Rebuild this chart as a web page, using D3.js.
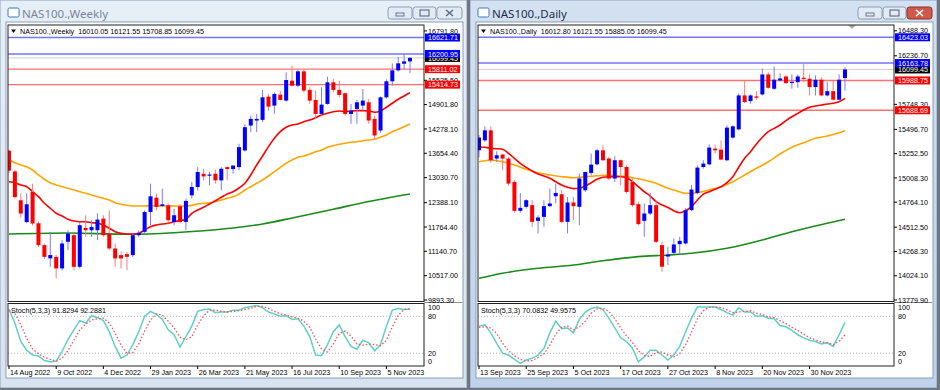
<!DOCTYPE html>
<html>
<head>
<meta charset="utf-8">
<script src="https://cdnjs.cloudflare.com/ajax/libs/d3/7.8.5/d3.min.js"></script>
<style>
    body { margin: 0; background: #ffffff; }
    svg { display: block; font-family: "Liberation Sans", Arial, sans-serif; }
</style>
</head>
<body>
<div id="chart"></div>
<script>
// ---- Weekly window data ----
const weeklyDates = ['14 Aug 2022', '9 Oct 2022', '4 Dec 2022', '29 Jan 2023', '26 Mar 2023',
    '21 May 2023', '16 Jul 2023', '10 Sep 2023', '5 Nov 2023'];
const weeklyPriceTicks = [9893.30, 10517.00, 11140.70, 11764.40, 12388.10, 13030.70, 13654.40,
    14278.10, 14901.80, 15525.50, 16791.80];
// [open, high, low, close]
const weeklyCandles = [
    [13720, 13750, 13150, 13210], [13190, 13230, 12500, 12530], [12450, 12630, 12010, 12110],
    [11890, 12630, 11860, 12347], [12661, 12876, 11800, 11853], [11860, 11900, 11250, 11300],
    [11300, 11340, 10950, 11000], [10960, 11640, 10745, 11045], [10999, 11050, 10448, 10703],
    [10703, 11427, 10650, 11342], [11385, 11682, 11171, 11598], [11555, 11600, 10660, 10744],
    [10744, 11900, 10700, 11810], [11740, 12065, 11510, 11682], [11682, 11938, 11510, 11767],
    [11682, 12117, 11427, 11955], [11980, 12065, 11510, 11555], [11597, 12193, 11171, 11214],
    [11214, 11342, 10745, 10959], [11044, 11128, 10703, 10959], [11069, 11128, 10660, 11000],
    [11044, 11597, 10990, 11555], [11555, 11682, 11510, 11613], [11640, 12193, 11600, 12150],
    [12150, 12876, 11810, 12551], [12518, 12620, 12193, 12279], [12305, 12748, 12279, 12347],
    [12321, 12365, 11853, 11938], [11894, 12237, 11810, 12066], [12296, 12347, 11853, 11894],
    [11894, 12493, 11682, 12433], [12577, 12917, 12493, 12790], [12790, 13300, 12700, 13173],
    [13130, 13258, 12960, 13062], [13088, 13173, 12832, 13110], [13130, 13233, 12875, 12960],
    [12960, 13300, 12705, 13258], [13300, 13320, 12960, 13250], [13250, 13343, 13130, 13340],
    [13300, 13898, 13216, 13812], [13727, 14400, 13700, 14323], [14366, 14621, 14196, 14536],
    [14494, 14664, 14196, 14536], [14511, 15278, 14450, 15089], [15107, 15176, 14749, 14851],
    [14877, 15218, 14664, 15176], [15158, 15261, 15005, 15022], [15005, 15729, 14980, 15533],
    [15516, 15900, 15370, 15388], [15388, 15789, 15346, 15755], [15755, 15789, 15210, 15261],
    [15278, 15346, 14920, 15005], [15022, 15261, 14536, 14664], [14664, 15346, 14621, 14902],
    [14920, 15618, 14900, 15474], [15474, 15559, 15218, 15278], [15278, 15516, 15090, 15150],
    [15193, 15218, 14621, 14664], [14664, 14920, 14408, 14749], [14792, 15022, 14408, 14962],
    [14877, 15303, 14749, 15005], [14962, 15050, 14408, 14494], [14536, 14621, 14000, 14110],
    [14238, 15107, 14180, 15089], [15089, 15550, 15050, 15500], [15500, 15960, 15390, 15780],
    [15780, 16130, 15750, 15960], [15950, 16200.95, 15800, 16010], [16010.05, 16121.55, 15708.85, 16099.45]
];
const weeklyMaRed = [12926, 12901, 12842, 12798, 12670, 12542, 12373, 12245, 12117, 12047,
    11963, 11919, 11901, 11901, 11875, 11860, 11816, 11732, 11645, 11603,
    11586, 11586, 11603, 11688, 11773, 11816, 11842, 11860, 11901, 11927,
    11963, 12117, 12201, 12270, 12355, 12439, 12526, 12611, 12670, 12765,
    12885, 13098, 13355, 13585, 13824, 14039, 14208, 14321, 14380, 14406,
    14465, 14508, 14568, 14637, 14680, 14721, 14739, 14721, 14739, 14747,
    14747, 14739, 14706, 14739, 14834, 14937, 15039, 15124, 15209];
const weeklyMaOrange = [13483, 13413, 13354, 13311, 13226, 13098, 12988, 12901, 12842, 12798,
    12757, 12713, 12670, 12629, 12585, 12542, 12501, 12457, 12388, 12347,
    12321, 12303, 12303, 12303, 12311, 12311, 12303, 12303, 12303, 12303,
    12303, 12321, 12355, 12373, 12388, 12413, 12457, 12501, 12542, 12611,
    12713, 12798, 12885, 12970, 13072, 13183, 13295, 13398, 13483, 13552,
    13585, 13636, 13695, 13739, 13808, 13849, 13885, 13911, 13936, 13952,
    13977, 13995, 14013, 14065, 14124, 14208, 14270, 14336, 14406];
// [bar index, value]
const weeklyMaGreen = [[0, 11585], [10, 11611], [20, 11578], [28, 11619], [33, 11670], [38, 11739],
    [43, 11842], [49, 12029], [55, 12219], [60, 12388], [68, 12611]];
const weeklyBlueLevels = [16621.71, 16200.95];
const weeklyRedLevels = [15811.02, 15414.73];
const weeklyStochMain = [91, 69, 39, 25, 17, 15.6, 8, 6, 7, 23, 42, 58, 73, 69, 81, 78, 73, 55, 31, 12,
    17, 34, 55, 80, 88, 83, 75, 58, 50, 30, 47, 64, 88, 91, 92, 86, 87, 87, 90, 90,
    94, 96, 97.5, 94, 87, 84, 80, 81, 75, 76, 64, 47, 17, 16, 34, 55, 66, 47, 31, 26.5,
    41, 37, 24, 34, 64, 90, 92.6, 91, 91.83];
const weeklyStochSignal = [90, 85, 66, 44, 27, 19, 13.5, 10, 7, 12, 24, 41, 58, 67, 74, 76, 77, 69, 53, 33,
    20, 21, 35, 56, 74, 84, 82, 72, 61, 46, 42, 47, 66, 81, 90, 90, 88, 87, 88, 89,
    91, 93, 96, 96, 93, 88, 84, 82, 79, 77, 72, 62, 43, 27, 22, 35, 52, 56, 48, 35,
    33, 35, 34, 32, 41, 63, 82, 91, 92.29];

// ---- Daily window data ----
const dailyDates = ['13 Sep 2023', '25 Sep 2023', '5 Oct 2023', '17 Oct 2023', '27 Oct 2023',
    '8 Nov 2023', '20 Nov 2023', '30 Nov 2023'];
const dailyPriceTicks = [13779.90, 14024.10, 14268.30, 14512.50, 14764.10, 15008.30, 15252.50,
    15496.70, 15748.30, 16236.70, 16488.30];
const dailyCandles = [
    [15286, 15440, 15215, 15414], [15386, 15527, 15370, 15487], [15487, 15527, 15160, 15186],
    [15203, 15275, 15170, 15236], [15243, 15253, 15085, 15203], [15203, 15220, 14930, 14951],
    [14968, 14990, 14660, 14677], [14677, 14857, 14660, 14707], [14717, 14794, 14700, 14784],
    [14734, 14784, 14516, 14566], [14576, 14633, 14450, 14610], [14616, 14784, 14516, 14724],
    [14724, 14901, 14714, 14751], [14824, 14951, 14751, 14857], [14844, 14884, 14553, 14566],
    [14566, 14817, 14450, 14761], [14761, 14817, 14583, 14724], [14717, 15052, 14533, 15002],
    [14884, 15070, 14867, 15068], [15058, 15253, 15035, 15142], [15145, 15303, 15135, 15286],
    [15286, 15336, 15176, 15186], [15203, 15220, 14985, 15002], [15002, 15226, 14968, 15186],
    [15186, 15193, 14934, 15118], [15118, 15135, 14850, 14867], [14968, 15005, 14714, 14734],
    [14744, 14767, 14533, 14543], [14576, 14751, 14416, 14650], [14650, 14857, 14633, 14734],
    [14734, 14784, 14350, 14365], [14332, 14365, 14064, 14115], [14217, 14315, 14131, 14237],
    [14255, 14399, 14242, 14339], [14342, 14415, 14242, 14375], [14349, 14704, 14339, 14684],
    [14684, 14935, 14674, 14891], [14857, 15135, 14844, 15112], [15118, 15186, 15102, 15152],
    [15145, 15346, 15135, 15313], [15303, 15343, 15253, 15286], [15293, 15386, 15186, 15193],
    [15186, 15537, 15176, 15514], [15414, 15537, 15404, 15527], [15497, 15858, 15487, 15838],
    [15838, 15989, 15761, 15771], [15781, 15848, 15754, 15838], [15828, 15881, 15795, 15815],
    [15848, 16109, 15838, 16049], [16049, 16072, 15905, 15915], [15905, 16129, 15895, 15996],
    [15989, 16059, 15979, 16009], [16029, 16039, 15955, 15962], [15965, 16049, 15905, 15975],
    [15972, 16049, 15915, 16029], [16016, 16163.78, 15972, 16006], [16006, 16049, 15838, 15922],
    [15922, 16039, 15838, 15996], [15996, 16019, 15828, 15838], [15838, 15972, 15828, 15881],
    [15881, 15989, 15785, 15795], [15795, 16049, 15788, 15996], [16012.80, 16121.55, 15885.05, 16099.45]
];
const dailyMaRed = [15316, 15316, 15306, 15302, 15296, 15256, 15205, 15155, 15115, 15078,
    15048, 15027, 15004, 14970, 14937, 14914, 14900, 14904, 14927, 14960,
    14994, 15014, 15020, 15020, 15020, 15010, 14970, 14920, 14869, 14826,
    14769, 14736, 14711, 14678, 14658, 14678, 14719, 14786, 14846, 14869,
    14894, 14920, 14960, 15020, 15115, 15205, 15272, 15349, 15417, 15473,
    15507, 15541, 15584, 15624, 15658, 15691, 15719, 15732, 15742, 15752,
    15759, 15775, 15809];
const dailyMaOrange = [[0, 15171], [2, 15188], [4, 15171], [6, 15138], [8, 15095], [10, 15061],
    [12, 15038], [14, 15020], [16, 15010], [18, 15020], [20, 15030], [22, 15038], [24, 15027],
    [26, 15010], [28, 14987], [30, 14954], [32, 14904], [33, 14887], [35, 14853], [37, 14859],
    [39, 14887], [41, 14920], [43, 14970], [45, 15038], [47, 15105], [49, 15171], [51, 15249],
    [53, 15316], [55, 15362], [57, 15407], [59, 15430], [61, 15463], [62, 15483]];
const dailyMaGreen = [[0, 13998], [4, 14049], [10, 14099], [16, 14132], [21, 14175], [27, 14216],
    [32, 14233], [36, 14250], [42, 14300], [48, 14384], [53, 14467], [59, 14552], [62, 14592]];
const dailyBlueLevels = [16423.03, 16163.78];
const dailyRedLevels = [15988.75, 15688.69];
const dailyStochMain = [64, 66, 53, 36, 20, 17, 10, 3.6, 9, 12, 17, 28, 53, 72, 60, 61, 53, 75, 87, 92.6,
    95, 91, 77, 61, 45, 39, 28, 6, 14, 25, 25, 17, 9, 17, 31, 55, 77, 95, 95, 95,
    95, 91, 86, 82, 94, 87, 87, 80, 81, 77, 76, 65, 63, 57, 50, 45, 41, 39, 35, 37,
    31, 50, 70.08];
const dailyStochSignal = [62, 63, 61, 52, 36, 24, 16, 10, 7.5, 8, 13, 19, 33, 51, 62, 64, 58, 63, 72, 85,
    92, 93, 88, 76, 61, 48, 37, 24, 16, 15, 21, 22, 17, 14, 19, 34, 54, 76, 89, 95,
    95, 94, 91, 86, 87, 88, 89, 85, 83, 79, 78, 73, 68, 62, 57, 51, 45, 42, 38, 37,
    34, 39, 49.96];

const width = 940;
const height = 390;

const svg = d3.select('#chart')
    .append('svg')
    .attr('width', width)
    .attr('height', height);

const defs = svg.append('defs');

/**
 * Draws one MT4 style chart window
 * @param {Object} cfg window settings and data
 */
function drawWindow(cfg) {
    const ox = cfg.left;
    const plot = {left: ox + 8, right: ox + 424, top: 25, bottom: 301.5};
    const stoch = {top: 303.5, bottom: 366};
    const g = svg.append('g').classed('window', true);

    // frame and title bar
    const grad = defs.append('linearGradient')
        .attr('id', 'title-' + cfg.id)
        .attr('x1', 0).attr('y1', 0).attr('x2', 0).attr('y2', 1);
    grad.append('stop').attr('offset', '0%').attr('stop-color', cfg.active ? '#d3e1f1' : '#e6eef7');
    grad.append('stop').attr('offset', '100%').attr('stop-color', cfg.active ? '#bfd2ea' : '#d8e3f0');

    g.append('rect')
        .attr('x', ox).attr('y', 0)
        .attr('width', 467).attr('height', 388)
        .attr('fill', 'url(#title-' + cfg.id + ')')
        .attr('stroke', '#8da3bd')
        .attr('stroke-width', 1);

    // icon
    g.append('rect')
        .attr('x', ox + 8).attr('y', 8).attr('width', 11).attr('height', 9)
        .attr('rx', 1.5)
        .attr('fill', '#ffffff').attr('stroke', '#3d78c4');
    g.append('text')
        .attr('x', ox + 22).attr('y', 18)
        .attr('font-size', 11.5)
        .attr('font-family', '"Noto Sans", "Liberation Sans", sans-serif')
        .attr('fill', cfg.active ? '#1e2f4c' : '#7b8797')
        .text(cfg.title);

    // caption buttons
    const btnX = [ox + 388, ox + 413, ox + 437];
    const btnW = [24, 23, 25];
    btnX.forEach((bx, k) => {
        const isClose = k === 2;
        g.append('rect')
            .attr('x', bx).attr('y', 7).attr('width', btnW[k]).attr('height', 12)
            .attr('rx', 2.5)
            .attr('fill', isClose && cfg.active ? '#cf5a4b' : '#e2eaf4')
            .attr('stroke', isClose && cfg.active ? '#8a3329' : '#8c9db3');
    });
    const gc = cfg.active ? '#ffffff' : '#5d6d82';
    g.append('rect').attr('x', btnX[0] + 8).attr('y', 13).attr('width', 8).attr('height', 3)
        .attr('fill', 'none').attr('stroke', '#4c5d74').attr('stroke-width', 0.8);
    g.append('rect').attr('x', btnX[1] + 7).attr('y', 10).attr('width', 9).attr('height', 6)
        .attr('fill', 'none').attr('stroke', '#4c5d74').attr('stroke-width', 1);
    g.append('path')
        .attr('d', `M${btnX[2] + 9},10 L${btnX[2] + 16},16 M${btnX[2] + 16},10 L${btnX[2] + 9},16`)
        .attr('stroke', gc).attr('stroke-width', 1.6);

    // client area
    g.append('rect')
        .attr('x', ox + 6).attr('y', 22)
        .attr('width', 457).attr('height', 356)
        .attr('fill', '#ffffff')
        .attr('stroke', '#8c9db3');

    // scales
    const n = cfg.candles.length;
    const xScale = d3.scaleLinear()
        .domain([0, n - 1])
        .range([cfg.firstX, cfg.lastX]);
    const yScale = d3.scaleLinear()
        .domain(cfg.yDomain)
        .range([300, cfg.yTop]);
    const sScale = d3.scaleLinear()
        .domain([0, 100])
        .range([365.5, 304]);

    // clip paths
    defs.append('clipPath').attr('id', 'clip-main-' + cfg.id)
        .append('rect')
        .attr('x', plot.left).attr('y', plot.top)
        .attr('width', plot.right - plot.left).attr('height', plot.bottom - plot.top);
    defs.append('clipPath').attr('id', 'clip-stoch-' + cfg.id)
        .append('rect')
        .attr('x', plot.left).attr('y', stoch.top)
        .attr('width', plot.right - plot.left).attr('height', stoch.bottom - stoch.top);

    const main = g.append('g').attr('clip-path', `url(#clip-main-${cfg.id})`);

    // horizontal levels
    main.append('line')
        .attr('x1', plot.left).attr('x2', plot.right)
        .attr('y1', yScale(cfg.candles[n - 1][3])).attr('y2', yScale(cfg.candles[n - 1][3]))
        .attr('stroke', '#d0d0d0').attr('stroke-width', 1);
    cfg.blueLevels.forEach(v => {
        main.append('line')
            .attr('x1', plot.left).attr('x2', plot.right)
            .attr('y1', yScale(v)).attr('y2', yScale(v))
            .attr('stroke', '#7474ff').attr('stroke-width', 1.4);
    });
    cfg.redLevels.forEach(v => {
        main.append('line')
            .attr('x1', plot.left).attr('x2', plot.right)
            .attr('y1', yScale(v)).attr('y2', yScale(v))
            .attr('stroke', '#ff7070').attr('stroke-width', 1.4);
    });

    // moving averages
    const seriesLine = d3.line()
        .x(d => xScale(d[0]))
        .y(d => yScale(d[1]))
        .curve(d3.curveMonotoneX);
    const maLines = [
        {data: cfg.maGreen, color: '#1b8a1b'},
        {data: cfg.maOrange, color: '#ffa500'},
        {data: cfg.maRed, color: '#ff0000'}
    ];
    maLines.forEach(ma => {
        main.append('path')
            .datum(ma.data)
            .attr('d', seriesLine)
            .attr('fill', 'none')
            .attr('stroke', ma.color)
            .attr('stroke-width', 1.6);
    });

    // candles
    const candle = main.selectAll('.candle')
        .data(cfg.candles)
        .enter()
        .append('g')
        .classed('candle', true);
    candle.append('line')
        .attr('x1', (d, i) => xScale(i)).attr('x2', (d, i) => xScale(i))
        .attr('y1', d => yScale(d[1])).attr('y2', d => yScale(d[2]))
        .attr('stroke', d => d[3] >= d[0] ? '#7a7aff' : '#ff7a7a')
        .attr('stroke-width', 1);
    candle.append('rect')
        .attr('x', (d, i) => xScale(i) - 2)
        .attr('width', 4)
        .attr('y', d => yScale(Math.max(d[0], d[3])))
        .attr('height', d => Math.max(1.2, Math.abs(yScale(d[0]) - yScale(d[3]))))
        .attr('fill', d => d[3] >= d[0] ? '#0000ff' : '#ff0000');

    // chart shift marker
    if (cfg.shiftMarker) {
        g.append('path')
            .attr('d', `M${ox + 378},25 L${ox + 386},25 L${ox + 382},29 Z`)
            .attr('fill', '#a8a8a8');
    }

    // stochastic panel
    const st = g.append('g').attr('clip-path', `url(#clip-stoch-${cfg.id})`);
    [20, 80].forEach(v => {
        st.append('line')
            .attr('x1', plot.left).attr('x2', plot.right)
            .attr('y1', sScale(v)).attr('y2', sScale(v))
            .attr('stroke', '#b4b4b4').attr('stroke-dasharray', '1,2');
    });
    const stochLine = d3.line()
        .x((d, i) => xScale(i))
        .y(d => sScale(d));
    st.append('path')
        .datum(cfg.stochMain)
        .attr('d', stochLine)
        .attr('fill', 'none')
        .attr('stroke', '#5fd0c8')
        .attr('stroke-width', 1.5);
    st.append('path')
        .datum(cfg.stochSignal)
        .attr('d', stochLine)
        .attr('fill', 'none')
        .attr('stroke', '#ff4d4d')
        .attr('stroke-width', 1.3)
        .attr('stroke-dasharray', '1.5,2');

    // borders
    g.append('rect')
        .attr('x', plot.left).attr('y', plot.top)
        .attr('width', plot.right - plot.left).attr('height', plot.bottom - plot.top)
        .attr('fill', 'none').attr('stroke', '#202020').attr('stroke-width', 1);
    g.append('rect')
        .attr('x', plot.left).attr('y', stoch.top)
        .attr('width', plot.right - plot.left).attr('height', stoch.bottom - stoch.top)
        .attr('fill', 'none').attr('stroke', '#202020').attr('stroke-width', 1);
    g.append('line')
        .attr('x1', plot.right).attr('x2', ox + 462)
        .attr('y1', 302.5).attr('y2', 302.5)
        .attr('stroke', '#909090');

    // chart headers
    g.append('path')
        .attr('d', `M${plot.left + 3},29.5 L${plot.left + 8},29.5 L${plot.left + 5.5},33 Z`)
        .attr('fill', '#000000');
    g.append('text')
        .attr('x', plot.left + 12).attr('y', 34)
        .attr('font-size', 7.2).attr('fill', '#000000')
        .attr('xml:space', 'preserve')
        .text(cfg.header);
    g.append('text')
        .attr('x', plot.left + 3).attr('y', 313)
        .attr('font-size', 7.2).attr('fill', '#000000')
        .text(cfg.stochHeader);

    // price axis
    const axisG = g.append('g').attr('font-size', 7.2);
    cfg.priceTicks.forEach(v => {
        const y = yScale(v);
        axisG.append('line')
            .attr('x1', plot.right).attr('x2', plot.right + 3)
            .attr('y1', y).attr('y2', y)
            .attr('stroke', '#000000');
        axisG.append('text')
            .attr('x', plot.right + 4).attr('y', y + 2.6)
            .attr('fill', '#000000')
            .text(v.toFixed(2));
    });

    // stochastic axis
    const stochTicks = [['100', sScale(100) + 5.5], ['80', sScale(80) + 2.6], ['20', sScale(20) + 2.6], ['0', sScale(0) - 1.5]];
    stochTicks.forEach(([label, y]) => {
        axisG.append('text')
            .attr('x', plot.right + 4).attr('y', y)
            .attr('fill', '#000000')
            .text(label);
    });

    // price boxes
    const boxes = [{v: cfg.candles[n - 1][3], fill: '#000000'}]
        .concat(cfg.redLevels.map(v => ({v: v, fill: '#ff0000'})))
        .concat(cfg.blueLevels.map(v => ({v: v, fill: '#0000ff'})));
    boxes.forEach(b => {
        const y = yScale(b.v);
        axisG.append('rect')
            .attr('x', plot.right + 1).attr('y', y - 4)
            .attr('width', 35).attr('height', 8)
            .attr('fill', b.fill);
        axisG.append('text')
            .attr('x', plot.right + 4).attr('y', y + 2.6)
            .attr('fill', '#ffffff')
            .text(b.v.toFixed(2));
    });

    // time axis
    cfg.dateLabels.forEach((label, k) => {
        const x = xScale(k * 8);
        axisG.append('line')
            .attr('x1', x).attr('x2', x)
            .attr('y1', stoch.bottom).attr('y2', stoch.bottom + 3)
            .attr('stroke', '#000000');
        axisG.append('text')
            .attr('x', x + 1).attr('y', 375)
            .attr('fill', '#000000')
            .text(label);
    });
}

drawWindow({
    id: 'weekly',
    left: 0,
    active: false,
    title: 'NAS100.,Weekly',
    header: 'NAS100.,Weekly  16010.05 16121.55 15708.85 16099.45',
    stochHeader: 'Stoch(5,3,3) 91.8294 92.2881',
    candles: weeklyCandles,
    maRed: weeklyMaRed.map((v, i) => [i, v]),
    maOrange: weeklyMaOrange.map((v, i) => [i, v]),
    maGreen: weeklyMaGreen,
    blueLevels: weeklyBlueLevels,
    redLevels: weeklyRedLevels,
    stochMain: weeklyStochMain,
    stochSignal: weeklyStochSignal,
    priceTicks: weeklyPriceTicks,
    dateLabels: weeklyDates,
    yDomain: [9893.30, 16791.80],
    yTop: 30.9,
    firstX: 9,
    lastX: 410,
    shiftMarker: false
});

drawWindow({
    id: 'daily',
    left: 470,
    active: true,
    title: 'NAS100.,Daily',
    header: 'NAS100.,Daily  16012.80 16121.55 15885.05 16099.45',
    stochHeader: 'Stoch(5,3,3) 70.0832 49.9575',
    candles: dailyCandles,
    maRed: dailyMaRed.map((v, i) => [i, v]),
    maOrange: dailyMaOrange,
    maGreen: dailyMaGreen,
    blueLevels: dailyBlueLevels,
    redLevels: dailyRedLevels,
    stochMain: dailyStochMain,
    stochSignal: dailyStochSignal,
    priceTicks: dailyPriceTicks,
    dateLabels: dailyDates,
    yDomain: [13779.90, 16488.30],
    yTop: 30.8,
    firstX: 479,
    lastX: 845,
    shiftMarker: true
});

// separators between and below the windows
svg.append('rect').attr('x', 467).attr('y', 0).attr('width', 3).attr('height', height).attr('fill', '#6f7680');
svg.append('rect').attr('x', 0).attr('y', 388).attr('width', width).attr('height', 2).attr('fill', '#6f7680');
svg.append('rect').attr('x', 937).attr('y', 0).attr('width', 3).attr('height', height).attr('fill', '#6f7680');
</script>
</body>
</html>
